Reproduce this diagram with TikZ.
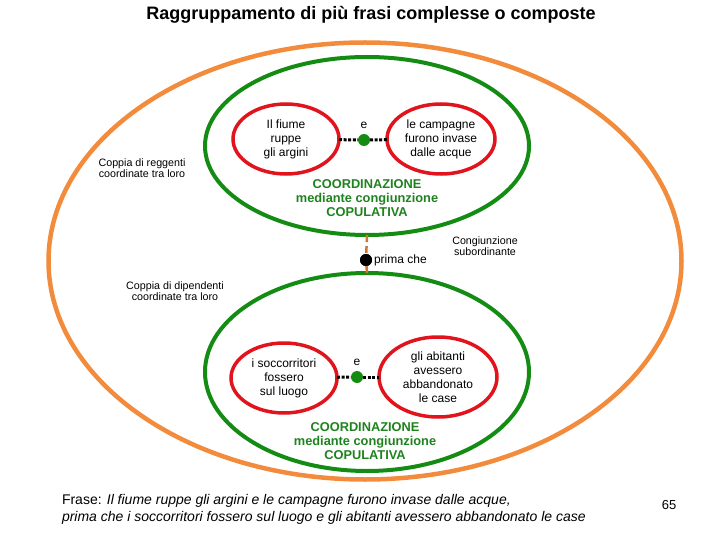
\documentclass[tikz,border=0pt]{standalone}
\usepackage{fontspec}
\setmainfont{Liberation Sans}
\usetikzlibrary{positioning, shapes.geometric}

\definecolor{orangeline}{RGB}{242,140,60}
\definecolor{greenline}{RGB}{20,140,20}
\definecolor{redline}{RGB}{225,20,30}
\definecolor{greentext}{RGB}{30,130,30}

\begin{document}
\begin{tikzpicture}[
      x=1pt, y=-1pt,
      every node/.style={align=center, inner sep=0pt, outer sep=0pt},
      group/.style={draw=orangeline, ellipse, line width=4.5pt},
      coord/.style={draw=greenline, ellipse, line width=4pt},
      clause/.style={draw=redline, ellipse, line width=3.5pt, font=\fontsize{12}{14}\selectfont},
      conj/.style={circle, fill=greenline, minimum size=12pt},
      subdot/.style={circle, fill=black, minimum size=12pt},
      link/.style={draw, line width=3pt, dash pattern=on 3pt off 1.6pt},
      sub/.style={draw=orangeline!85!black, line width=2.5pt, dash pattern=on 7pt off 4pt},
      kind/.style={text=greentext, font=\bfseries\fontsize{12.8}{14}\selectfont},
      note/.style={font=\fontsize{10.7}{11}\selectfont},
  ]
      \useasboundingbox (0,0) rectangle (720,540);

      % Title
      \node (title) at (371,15) {\bfseries\fontsize{18}{20}\selectfont Raggruppamento di più frasi complesse o composte};

      % Outer group and the two coordinated pairs
      \node[group, minimum width=633pt, minimum height=437pt] (outer) at (365,261) {};
      \node[coord, minimum width=324pt, minimum height=178pt] (pairA) at (367,146) {};
      \node[coord, minimum width=324pt, minimum height=198pt] (pairB) at (367,372) {};

      % Upper pair: main clauses
      \node[clause, minimum width=106pt, minimum height=70pt] (fiume) at (286,139) {Il fiume\\ruppe\\gli argini};
      \node[clause, minimum width=108pt, minimum height=70pt] (campagne) at (441,139) {le campagne\\furono invase\\dalle acque};
      \node[conj] (eA) at (364,140) {};
      \node[font=\fontsize{12}{14}\selectfont, above=5pt of eA] (eAlabel) {e};
      \node[kind] (kindA) at (367,198) {COORDINAZIONE\\mediante congiunzione\\COPULATIVA};

      % Subordinating conjunction
      \node[subdot] (prima) at (366,260) {};
      \node[font=\fontsize{12}{14}\selectfont, right=2pt of prima] (primalabel) {prima che};
      \node[note] (subord) at (485,246) {Congiunzione\\subordinante};

      % Side notes
      \node[note] (reggenti) at (142,168) {Coppia di reggenti\\coordinate tra loro};
      \node[note] (dipendenti) at (175,291) {Coppia di dipendenti\\coordinate tra loro};

      % Lower pair: dependent clauses
      \node[clause, minimum width=106pt, minimum height=70pt] (soccorritori) at (284,378) {i soccorritori\\fossero\\sul luogo};
      \node[clause, minimum width=118pt, minimum height=80pt] (abitanti) at (438,377) {gli abitanti\\avessero\\abbandonato\\le case};
      \node[conj] (eB) at (357,377) {};
      \node[font=\fontsize{12}{14}\selectfont, above=5pt of eB] (eBlabel) {e};
      \node[kind] (kindB) at (365,441) {COORDINAZIONE\\mediante congiunzione\\COPULATIVA};

      % Sentence and page number
      \node[anchor=north west, align=left, font=\fontsize{14}{17}\selectfont] (frase) at (62,494)
          {Frase: \itshape Il fiume ruppe gli argini e le campagne furono invase dalle acque,\\
           \itshape prima che i soccorritori fossero sul luogo e gli abitanti avessero abbandonato le case};
      \node[font=\fontsize{13}{15}\selectfont] (page) at (669,505) {65};

      % Connectors
      \draw[link] (fiume) -- (eA);
      \draw[link] (eA) -- (campagne);
      \draw[link] (soccorritori) -- (eB);
      \draw[link] (eB) -- (abitanti);
      \draw[sub] (pairA.south) -- (prima);
      \draw[sub] (prima) -- (pairB.north);
      \node[subdot] at (prima) {};

\end{tikzpicture}
\end{document}
